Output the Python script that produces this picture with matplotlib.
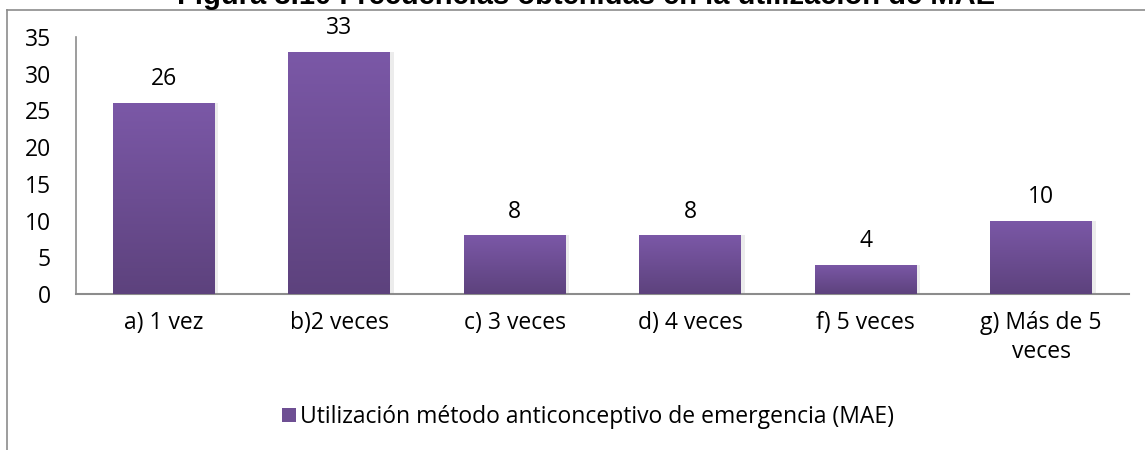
import numpy as np
import matplotlib.pyplot as plt
from matplotlib.lines import Line2D
from matplotlib.patches import Patch
from matplotlib.colors import LinearSegmentedColormap

categories = ["a) 1 vez", "b)2 veces", "c) 3 veces", "d) 4 veces", "f) 5 veces", "g) Más de 5\nveces"]
values = [26, 33, 8, 8, 4, 10]
series_name = "Utilización método anticonceptivo de emergencia (MAE)"
title = "Figura 3.10 Frecuencias obtenidas en la utilización de MAE"

plt.rcParams['font.family'] = ['Open Sans', 'DejaVu Sans']
fs = 16.5

fig = plt.figure(figsize=(11.45, 4.5), dpi=100)
ax = fig.add_axes([76/1145, 1 - 294/450, (1129 - 76)/1145, (294 - 37)/450])

x = np.arange(len(categories))
# soft shadow behind bars
ax.bar(x + 0.02, values, width=0.58, color="#ececec", zorder=1)
bars = ax.bar(x, values, width=0.58, color="#6e4f93", zorder=2)

# vertical gradient fill inside each bar
cmap = LinearSegmentedColormap.from_list("purp", ["#5d427d", "#7b58a7"])
grad = np.linspace(0, 1, 256).reshape(-1, 1)
for b in bars:
    x0, y0 = b.get_x(), b.get_y()
    w, h = b.get_width(), b.get_height()
    im = ax.imshow(grad, cmap=cmap, origin="lower", aspect="auto",
                   extent=[x0, x0 + w, y0, y0 + h], zorder=3)
    im.set_clip_path(b)

for xi, v in zip(x, values):
    ax.text(xi, v + 1.6, str(v), ha="center", va="bottom", fontsize=fs)

ax.set_xlim(-0.5, len(categories) - 0.5)
ax.set_ylim(0, 35)
ax.set_yticks(range(0, 36, 5))
ax.set_xticks(x)
ax.set_xticklabels(categories, fontsize=fs, linespacing=1.3)
ax.tick_params(axis="y", labelsize=fs, length=0, pad=18)
ax.tick_params(axis="x", length=0, pad=12)
for s in ["top", "right"]:
    ax.spines[s].set_visible(False)
ax.spines["left"].set_color("#8c8c8c")
ax.spines["bottom"].set_color("#8c8c8c")
ax.spines["left"].set_linewidth(1.2)
ax.spines["bottom"].set_linewidth(1.5)

handle = Patch(facecolor="#6e4f93", edgecolor="none")
fig.legend([handle], [series_name], loc="center", bbox_to_anchor=(588/1145, 1 - 417/450),
           frameon=False, fontsize=fs, handlelength=0.6, handleheight=0.6, handletextpad=0.2)

# outer chart frame (top and left edges visible)
fig.add_artist(Line2D([7/1145, 1], [1 - 10/450, 1 - 10/450], color="#8c8c8c", lw=1.2))
fig.add_artist(Line2D([7/1145, 7/1145], [0, 1 - 10/450], color="#8c8c8c", lw=1.2))

# title, cut off by the top of the image
fig.text(586/1145, 1 - 4.5/450, title, ha="center", va="baseline",
         fontsize=21, fontweight="bold", family=["Liberation Sans", "DejaVu Sans"])

fig.savefig("out.png", dpi=100)
